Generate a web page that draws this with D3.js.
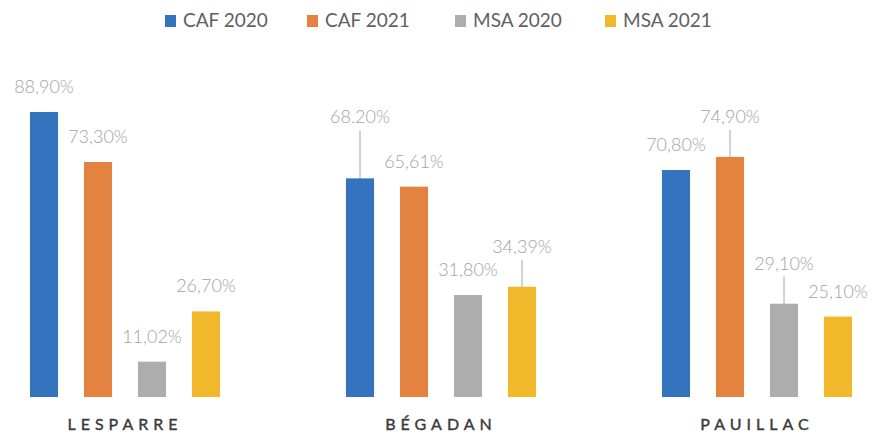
<!DOCTYPE html>
<html><head><meta charset="utf-8">
<script src="https://cdn.jsdelivr.net/npm/d3@7"></script>
<style>body{margin:0;background:#fff}svg{display:block}</style>
</head><body>
<script>
const categories = ["LESPARRE", "BÉGADAN", "PAUILLAC"];
const seriesNames = ["CAF 2020", "CAF 2021", "MSA 2020", "MSA 2021"];
const caf2020 = [88.90, 68.20, 70.80];
const caf2021 = [73.30, 65.61, 74.90];
const msa2020 = [11.02, 31.80, 29.10];
const msa2021 = [26.70, 34.39, 25.10];
const labels2020caf = ["88,90%", "68.20%", "70,80%"];
const labels2021caf = ["73,30%", "65,61%", "74,90%"];
const labels2020msa = ["11,02%", "31,80%", "29,10%"];
const labels2021msa = ["26,70%", "34,39%", "25,10%"];

// layout (not data): extra lift for labels with leader lines
const leaderLift = [[0,0,0,0],[36,0,0,15],[0,15,15,0]];
const colors = ["#3474bf", "#e4823f", "#adadad", "#f1b82b"];

const W = 872, H = 439;
const svg = d3.select("body").append("svg").attr("width", W).attr("height", H);

const series = [caf2020, caf2021, msa2020, msa2021];
const labelSets = [labels2020caf, labels2021caf, labels2020msa, labels2021msa];

const x0 = d3.scaleBand().domain(categories).range([-33, 915]).padding(0);
const x1 = d3.scaleBand().domain(seriesNames).range([0, 216]).paddingInner(0.48).paddingOuter(0.24);
const groupOffset = (x0.bandwidth() - 216) / 2;
const y = d3.scaleLinear().domain([0, 100]).range([397, 76.4]);
const color = d3.scaleOrdinal().domain(seriesNames).range(colors);

const rows = [];
categories.forEach((c, ci) => {
  seriesNames.forEach((s, si) => {
    rows.push({c, ci, s, si, v: series[si][ci], label: labelSets[si][ci]});
  });
});

const g = svg.append("g");
g.selectAll("rect.bar").data(rows).join("rect")
  .attr("class", "bar")
  .attr("x", d => x0(d.c) + groupOffset + x1(d.s))
  .attr("width", x1.bandwidth())
  .attr("y", d => y(d.v))
  .attr("height", d => y(0) - y(d.v))
  .attr("fill", d => color(d.s));

const cx = d => x0(d.c) + groupOffset + x1(d.s) + x1.bandwidth() / 2;

// leader lines
g.selectAll("line.leader").data(rows.filter(d => leaderLift[d.ci][d.si] > 0)).join("line")
  .attr("class", "leader")
  .attr("x1", cx).attr("x2", cx)
  .attr("y1", d => y(d.v) - 20 - leaderLift[d.ci][d.si] + 8)
  .attr("y2", d => y(d.v))
  .attr("stroke", "#a6a6a6").attr("stroke-width", 1);

g.selectAll("text.val").data(rows).join("text")
  .attr("class", "val")
  .attr("x", cx)
  .attr("y", d => y(d.v) - 19 - leaderLift[d.ci][d.si])
  .attr("text-anchor", "middle")
  .attr("font-family", "Lato, 'Open Sans', sans-serif")
  .attr("font-size", 18)
  .attr("font-weight", 300)
  .attr("fill", "#a3a3a3")
  .text(d => d.label);

// category axis labels
const xAxis = d3.axisBottom(x0).tickSize(0).tickPadding(0);
const ax = svg.append("g").attr("transform", "translate(0,416)").call(xAxis);
ax.select(".domain").remove();
ax.selectAll("text")
  .attr("font-family", "Lato, 'Open Sans', sans-serif")
  .attr("font-size", 16)
  .attr("font-weight", 400)
  .attr("letter-spacing", "5px")
  .attr("fill", "#3a3a3a")
  .attr("stroke", "#3a3a3a")
  .attr("stroke-width", 0.4)
  .attr("dy", "0.9em");

// legend
const legendX = [165, 307, 455, 605];
const lg = svg.append("g");
seriesNames.forEach((s, i) => {
  const it = lg.append("g").attr("transform", `translate(${legendX[i]},14)`);
  it.append("rect").attr("width", 11).attr("height", 12).attr("y", 1).attr("fill", color(s));
  it.append("text").attr("x", 18).attr("y", 13)
    .attr("font-family", "Lato, 'Open Sans', sans-serif")
    .attr("font-size", 19)
    .attr("fill", "#5f5f5f")
    .text(s);
});
</script>
</body></html>
